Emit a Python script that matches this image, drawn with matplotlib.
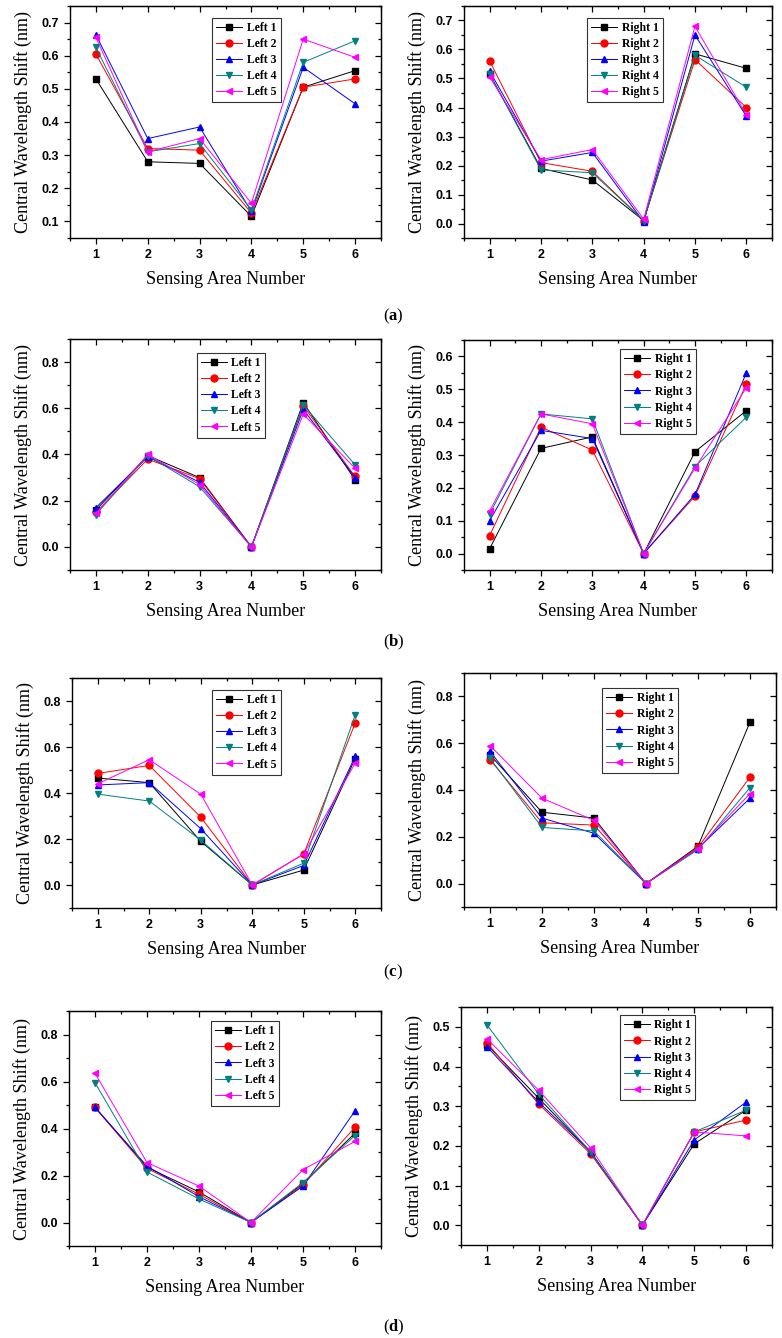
import matplotlib
matplotlib.use("Agg")
import matplotlib.pyplot as plt
from matplotlib.ticker import MultipleLocator, FormatStrFormatter

# sensing area positions on the x axis
sensing_area = [1, 2, 3, 4, 5, 6]

left_names = ["Left 1", "Left 2", "Left 3", "Left 4", "Left 5"]
right_names = ["Right 1", "Right 2", "Right 3", "Right 4", "Right 5"]

# (a) wavelength shifts, one list per sensor
a_left = [
    [0.530, 0.280, 0.275, 0.115, 0.505, 0.555],
    [0.605, 0.320, 0.315, 0.125, 0.505, 0.530],
    [0.663, 0.350, 0.385, 0.130, 0.565, 0.455],
    [0.625, 0.310, 0.335, 0.135, 0.580, 0.645],
    [0.655, 0.310, 0.350, 0.155, 0.650, 0.595],
]
a_right = [
    [0.515, 0.190, 0.150, 0.010, 0.585, 0.535],
    [0.560, 0.210, 0.180, 0.010, 0.565, 0.400],
    [0.525, 0.215, 0.245, 0.005, 0.650, 0.370],
    [0.515, 0.185, 0.175, 0.010, 0.580, 0.470],
    [0.505, 0.220, 0.255, 0.015, 0.680, 0.375],
]

# (b)
b_left = [
    [0.160, 0.395, 0.300, 0.0, 0.625, 0.290],
    [0.150, 0.380, 0.295, 0.0, 0.610, 0.305],
    [0.170, 0.390, 0.280, 0.0, 0.595, 0.300],
    [0.140, 0.395, 0.260, 0.0, 0.615, 0.355],
    [0.145, 0.400, 0.270, 0.0, 0.575, 0.340],
]
b_right = [
    [0.015, 0.320, 0.355, 0.0, 0.310, 0.435],
    [0.055, 0.385, 0.315, 0.0, 0.175, 0.515],
    [0.100, 0.375, 0.350, 0.0, 0.180, 0.550],
    [0.120, 0.425, 0.410, 0.0, 0.265, 0.415],
    [0.130, 0.425, 0.395, 0.0, 0.260, 0.505],
]

# (c)
c_left = [
    [0.465, 0.445, 0.190, 0.0, 0.065, 0.550],
    [0.485, 0.520, 0.295, 0.0, 0.135, 0.705],
    [0.435, 0.445, 0.245, 0.0, 0.085, 0.560],
    [0.395, 0.365, 0.195, 0.0, 0.095, 0.740],
    [0.440, 0.545, 0.395, 0.0, 0.135, 0.530],
]
c_right = [
    [0.550, 0.305, 0.280, 0.0, 0.160, 0.690],
    [0.530, 0.260, 0.250, 0.0, 0.155, 0.455],
    [0.565, 0.280, 0.215, 0.0, 0.150, 0.365],
    [0.535, 0.240, 0.225, 0.0, 0.145, 0.410],
    [0.590, 0.365, 0.270, 0.0, 0.150, 0.385],
]

# (d)
d_left = [
    [0.490, 0.235, 0.130, 0.0, 0.165, 0.380],
    [0.490, 0.230, 0.120, 0.0, 0.160, 0.405],
    [0.490, 0.240, 0.110, 0.0, 0.155, 0.475],
    [0.595, 0.215, 0.100, 0.0, 0.170, 0.370],
    [0.635, 0.255, 0.155, 0.0, 0.225, 0.345],
]
d_right = [
    [0.455, 0.320, 0.185, 0.0, 0.205, 0.290],
    [0.460, 0.305, 0.180, 0.0, 0.235, 0.265],
    [0.450, 0.310, 0.185, 0.0, 0.215, 0.310],
    [0.505, 0.330, 0.185, 0.0, 0.235, 0.290],
    [0.470, 0.340, 0.195, 0.0, 0.235, 0.225],
]

colors = ["black", "#ff0000", "#0000ff", "#008080", "#ff00ff"]
markers = ["s", "o", "^", "v", "<"]

W, H = 782, 1338
fig = plt.figure(figsize=(W / 100, H / 100), dpi=100)


def box(x0, y0, x1, y1):
    # pixel box (top-left origin) -> figure fraction rect
    return [x0 / W, 1 - y1 / H, (x1 - x0) / W, (y1 - y0) / H]


# rect, data, names, ylim, y major step, legend anchor
panels = [
    (box(70, 6, 381, 238), a_left, left_names, (0.05, 0.75), 0.1, (0.457, 0.95)),
    (box(464, 6, 772, 238), a_right, right_names, (-0.05, 0.75), 0.1, (0.40, 0.95)),
    (box(70, 339, 381, 570), b_left, left_names, (-0.1, 0.9), 0.2, (0.407, 0.94)),
    (box(464, 340, 772, 570), b_right, right_names, (-0.05, 0.65), 0.1, (0.507, 0.96)),
    (box(72, 678, 381, 908), c_left, left_names, (-0.1, 0.9), 0.2, (0.454, 0.948)),
    (box(464, 673, 776, 907), c_right, right_names, (-0.1, 0.9), 0.2, (0.442, 0.935)),
    (box(69, 1011, 381, 1246), d_left, left_names, (-0.1, 0.9), 0.2, (0.454, 0.957)),
    (box(461, 1007, 772, 1245), d_right, right_names, (-0.05, 0.55), 0.1, (0.51, 0.965)),
]

tick_font = {"family": "Liberation Sans", "weight": "bold", "size": 9}

for rect, series, names, ylim, ystep, anchor in panels:
    ax = fig.add_axes(rect)
    for vals, name, c, m in zip(series, names, colors, markers):
        ax.plot(sensing_area, vals, color=c, lw=0.7, marker=m, markersize=5,
                markeredgecolor=c, label=name)

    ax.set_xlim(0.5, 6.5)
    ax.set_ylim(*ylim)
    ax.xaxis.set_major_locator(MultipleLocator(1))
    ax.xaxis.set_minor_locator(MultipleLocator(0.5))
    ax.yaxis.set_major_locator(MultipleLocator(ystep))
    ax.yaxis.set_minor_locator(MultipleLocator(ystep / 2))
    ax.yaxis.set_major_formatter(FormatStrFormatter("%.1f"))
    ax.tick_params(which="both", direction="out", width=0.9)
    ax.tick_params(which="major", length=4.5)
    ax.tick_params(which="minor", length=2.5)
    for lab in ax.get_xticklabels() + ax.get_yticklabels():
        lab.set_fontproperties(tick_font)
    for sp in ax.spines.values():
        sp.set_linewidth(1.0)

    # Origin-style inward ticks on the top and right sides
    top = ax.secondary_xaxis("top")
    top.xaxis.set_major_locator(MultipleLocator(1))
    top.xaxis.set_minor_locator(MultipleLocator(0.5))
    top.tick_params(which="both", direction="in", labeltop=False, width=0.9)
    top.tick_params(which="major", length=4.5)
    top.tick_params(which="minor", length=2.5)
    right = ax.secondary_yaxis("right")
    right.yaxis.set_major_locator(MultipleLocator(ystep))
    right.yaxis.set_minor_locator(MultipleLocator(ystep / 2))
    right.tick_params(which="both", direction="in", labelright=False, width=0.9)
    right.tick_params(which="major", length=4.5)
    right.tick_params(which="minor", length=2.5)

    ax.set_xlabel("Sensing Area Number", family="Liberation Serif", fontsize=13, labelpad=7)
    ax.set_ylabel("Central Wavelength Shift (nm)", family="Liberation Serif", fontsize=13, labelpad=7)

    leg = ax.legend(loc="upper left", bbox_to_anchor=anchor, borderaxespad=0,
                    prop={"family": "Liberation Serif", "weight": "bold", "size": 8.5},
                    handlelength=2.2, handletextpad=0.4, borderpad=0.35,
                    labelspacing=0.35, fancybox=False, framealpha=1)
    leg.get_frame().set_edgecolor("#333333")
    leg.get_frame().set_linewidth(0.8)

# sub-figure captions: "(" + bold letter + ")"
for letter, ypix in [("a", 316), ("b", 642), ("c", 972), ("d", 1327)]:
    t1 = fig.text(383 / W, 1 - ypix / H, "(", family="Liberation Serif", fontsize=12,
                  ha="left", va="center")
    t2 = fig.add_artist(plt.Annotation(letter, xy=(1, 0), xycoords=t1, va="bottom", ha="left",
                                       family="Liberation Serif", fontsize=12, weight="bold"))
    fig.add_artist(plt.Annotation(")", xy=(1, 0), xycoords=t2, va="bottom", ha="left",
                                  family="Liberation Serif", fontsize=12))

fig.savefig("out.png", dpi=100)
